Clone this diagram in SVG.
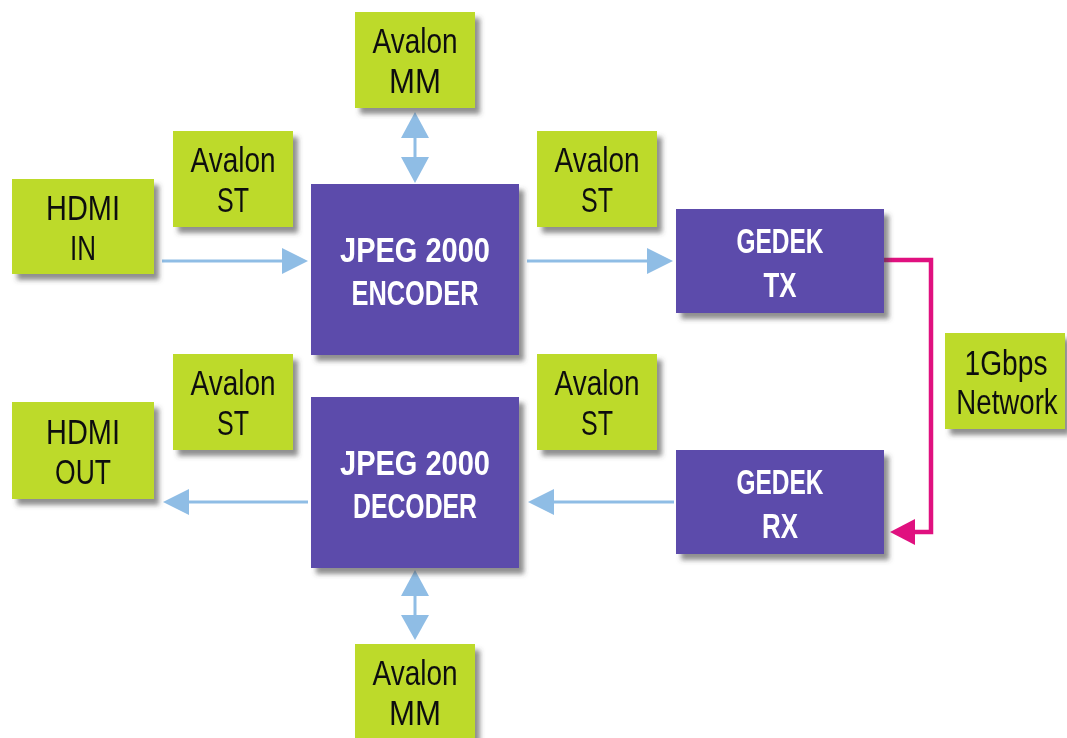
<svg xmlns="http://www.w3.org/2000/svg" width="1067" height="738" viewBox="0 0 1067 738">
<style>
.g{fill:#BDDA2C}
.p{fill:#5B4BAB}
.gt{font-family:"Liberation Sans",Arial,sans-serif;font-size:35px;fill:#111;text-anchor:middle}
.pt{font-family:"Liberation Sans",Arial,sans-serif;font-weight:bold;font-size:35px;fill:#fff;text-anchor:middle}
.b{stroke:#8FBDE5;stroke-width:3;fill:none}
.bh{fill:#8FBDE5}
.m{stroke:#E0107F;stroke-width:4.5;fill:none}
.mh{fill:#E0107F}
</style>
<defs>
<filter id="sh" x="-10%" y="-10%" width="130%" height="130%">
<feDropShadow dx="5" dy="6" stdDeviation="2.5" flood-color="#444" flood-opacity="0.6"/>
</filter>
</defs>
<rect width="1067" height="738" fill="#fff"/>
<g id="connectors">
<line class="b" x1="162" y1="261" x2="284" y2="261"/>
<polygon class="bh" points="308,261 282,248 282,274"/>
<line class="b" x1="527" y1="261" x2="649" y2="261"/>
<polygon class="bh" points="673,261 647,248 647,274"/>
<line class="b" x1="674" y1="502" x2="551" y2="502"/>
<polygon class="bh" points="528,502 554,489 554,515"/>
<line class="b" x1="308" y1="502" x2="186" y2="502"/>
<polygon class="bh" points="163,502 189,489 189,515"/>
<line class="b" x1="415" y1="136" x2="415" y2="159"/>
<polygon class="bh" points="415,112 401,138 429,138"/>
<polygon class="bh" points="415,183 401,157 429,157"/>
<line class="b" x1="415" y1="594" x2="415" y2="617"/>
<polygon class="bh" points="415,570 401,596 429,596"/>
<polygon class="bh" points="415,640 401,615 429,615"/>
<polyline class="m" points="884,260 931,260 931,532 912,532"/>
<polygon class="mh" points="890,532 915,519 915,545"/>
</g>
<g id="avalon-mm-top" filter="url(#sh)"><rect class="g" x="355" y="12" width="120" height="96"/><text class="gt" x="415" y="53" textLength="85" lengthAdjust="spacingAndGlyphs">Avalon</text><text class="gt" x="415" y="93" textLength="52" lengthAdjust="spacingAndGlyphs">MM</text></g>
<g id="avalon-st-1" filter="url(#sh)"><rect class="g" x="173" y="131" width="120" height="96"/><text class="gt" x="233" y="172" textLength="85" lengthAdjust="spacingAndGlyphs">Avalon</text><text class="gt" x="233" y="212" textLength="32" lengthAdjust="spacingAndGlyphs">ST</text></g>
<g id="avalon-st-2" filter="url(#sh)"><rect class="g" x="537" y="131" width="120" height="96"/><text class="gt" x="597" y="172" textLength="85" lengthAdjust="spacingAndGlyphs">Avalon</text><text class="gt" x="597" y="212" textLength="32" lengthAdjust="spacingAndGlyphs">ST</text></g>
<g id="hdmi-in" filter="url(#sh)"><rect class="g" x="12" y="179" width="142" height="95"/><text class="gt" x="83" y="220" textLength="74" lengthAdjust="spacingAndGlyphs">HDMI</text><text class="gt" x="83" y="260" textLength="26" lengthAdjust="spacingAndGlyphs">IN</text></g>
<g id="encoder" filter="url(#sh)"><rect class="p" x="311" y="184" width="208" height="171"/><text class="pt" x="415" y="262" textLength="150" lengthAdjust="spacingAndGlyphs">JPEG 2000</text><text class="pt" x="415" y="305" textLength="127" lengthAdjust="spacingAndGlyphs">ENCODER</text></g>
<g id="gedek-tx" filter="url(#sh)"><rect class="p" x="676" y="209" width="208" height="104"/><text class="pt" x="780" y="253" textLength="87" lengthAdjust="spacingAndGlyphs">GEDEK</text><text class="pt" x="780" y="297" textLength="33" lengthAdjust="spacingAndGlyphs">TX</text></g>
<g id="network" filter="url(#sh)"><rect class="g" x="945" y="333" width="120" height="96"/><text class="gt" x="1006" y="375" textLength="83" lengthAdjust="spacingAndGlyphs">1Gbps</text><text class="gt" transform="translate(1007,414) scale(0.79,1)" x="0" y="0">Network</text></g>
<g id="avalon-st-3" filter="url(#sh)"><rect class="g" x="173" y="354" width="120" height="96"/><text class="gt" x="233" y="395" textLength="85" lengthAdjust="spacingAndGlyphs">Avalon</text><text class="gt" x="233" y="435" textLength="32" lengthAdjust="spacingAndGlyphs">ST</text></g>
<g id="avalon-st-4" filter="url(#sh)"><rect class="g" x="537" y="354" width="120" height="96"/><text class="gt" x="597" y="395" textLength="85" lengthAdjust="spacingAndGlyphs">Avalon</text><text class="gt" x="597" y="435" textLength="32" lengthAdjust="spacingAndGlyphs">ST</text></g>
<g id="hdmi-out" filter="url(#sh)"><rect class="g" x="12" y="402" width="142" height="97"/><text class="gt" x="83" y="444" textLength="74" lengthAdjust="spacingAndGlyphs">HDMI</text><text class="gt" x="83" y="484" textLength="56" lengthAdjust="spacingAndGlyphs">OUT</text></g>
<g id="decoder" filter="url(#sh)"><rect class="p" x="311" y="397" width="208" height="171"/><text class="pt" x="415" y="475" textLength="150" lengthAdjust="spacingAndGlyphs">JPEG 2000</text><text class="pt" x="415" y="518" textLength="124" lengthAdjust="spacingAndGlyphs">DECODER</text></g>
<g id="gedek-rx" filter="url(#sh)"><rect class="p" x="676" y="450" width="208" height="104"/><text class="pt" x="780" y="494" textLength="87" lengthAdjust="spacingAndGlyphs">GEDEK</text><text class="pt" x="780" y="538" textLength="36" lengthAdjust="spacingAndGlyphs">RX</text></g>
<g id="avalon-mm-bottom" filter="url(#sh)"><rect class="g" x="355" y="644" width="120" height="96"/><text class="gt" x="415" y="685" textLength="85" lengthAdjust="spacingAndGlyphs">Avalon</text><text class="gt" x="415" y="725" textLength="52" lengthAdjust="spacingAndGlyphs">MM</text></g>
</svg>
